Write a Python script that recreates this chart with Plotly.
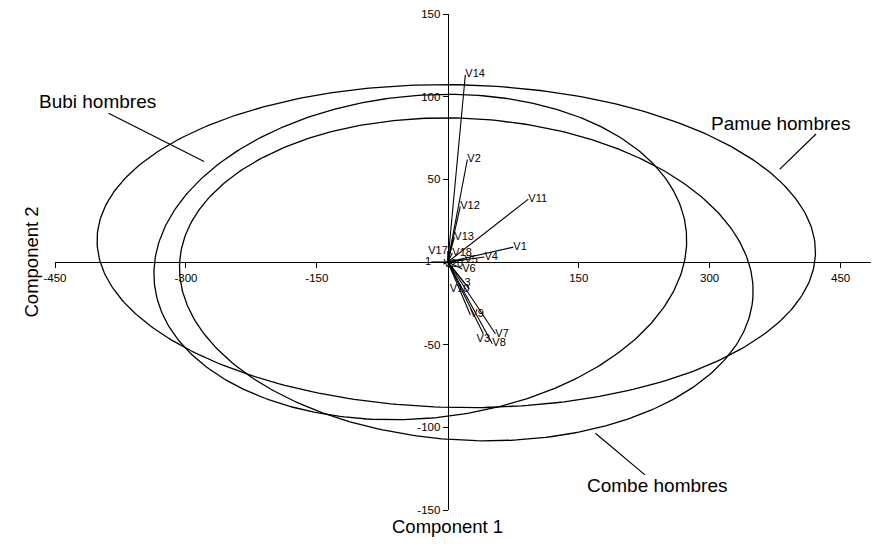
import numpy as np
import plotly.graph_objects as go

# ellipses (group regions): centre, first and second semi-diameter vectors
ellipse_names = ["Pamue hombres", "Bubi hombres", "Combe hombres"]
ellipse_cx = [9.7, -31.5, 21.2]
ellipse_cy = [9.6, 3.0, -10.5]
ellipse_ax = [411.5, 304.6, 328.4]
ellipse_ay = [-4.3, 16.05, -10.4]
ellipse_bx = [3.7, -18.5, 11.1]
ellipse_by = [97.6, 97.1, 97.1]

# variable loadings
var_labels = ["V14", "V2", "V12", "V13", "V11", "V1", "V4", "V17", "1", "V18",
              "V20", "V5", "V6", "3", "V10", "V9", "V7", "V8", "V3"]
var_x = [20.1, 22.4, 14.3, 7.5, 92.3, 75.1, 42.0, 0.0, -19.0, 5.2,
         -5.0, 19.0, 16.6, 19.0, 24.6, 25.8, 54.5, 51.0, 40.7]
var_y = [113.3, 62.0, 33.7, 15.1, 38.0, 9.0, 3.0, 6.6, 0.0, 5.4,
         -1.2, 1.2, -4.2, -12.7, -16.3, -31.9, -43.4, -49.4, -43.4]
var_textpos = ["middle right"] * 7 + ["middle left", "middle left"] + ["middle right"] * 5 + \
              ["middle left", "middle right", "middle right", "middle right", "bottom center"]

# group labels: text position and leader line (tail -> head)
group_text_x = [-401.3, 381.0, 240.0]
group_text_y = [97.0, 84.0, -135.0]
leader_tail = [(-390.4, 90.4), (423.6, 78.3), (227.6, -129.5)]
leader_head = [(-279.2, 60.8), (380.1, 56.0), (169.1, -103.6)]
group_label_order = ["Bubi hombres", "Pamue hombres", "Combe hombres"]

x_ticks = [-450, -300, -150, 150, 300, 450]
y_ticks = [-150, -100, -50, 50, 100, 150]

FONT = "Liberation Sans, Arial, Helvetica, sans-serif"

fig = go.Figure()

t = np.linspace(0, 2 * np.pi, 361)
for i, name in enumerate(ellipse_names):
    ex = ellipse_cx[i] + ellipse_ax[i] * np.cos(t) + ellipse_bx[i] * np.sin(t)
    ey = ellipse_cy[i] + ellipse_ay[i] * np.cos(t) + ellipse_by[i] * np.sin(t)
    fig.add_trace(go.Scatter(x=ex, y=ey, mode="lines", name=name,
                             line=dict(color="black", width=1.3),
                             hoverinfo="skip"))

# loading vectors from origin
lx, ly = [], []
for vx, vy in zip(var_x, var_y):
    lx += [0, vx, None]
    ly += [0, vy, None]
fig.add_trace(go.Scatter(x=lx, y=ly, mode="lines",
                         line=dict(color="black", width=1.1), hoverinfo="skip"))

fig.add_trace(go.Scatter(x=var_x, y=var_y, mode="text", text=var_labels,
                         textposition=var_textpos,
                         textfont=dict(family=FONT, size=11, color="black"),
                         cliponaxis=False))

annotations = []
for name, tx, ty in zip(group_label_order, group_text_x, group_text_y):
    annotations.append(dict(x=tx, y=ty, xref="x", yref="y", text=name,
                            showarrow=False,
                            font=dict(family=FONT, size=19, color="black")))
for (tx, ty), (hx, hy) in zip(leader_tail, leader_head):
    annotations.append(dict(x=hx, y=hy, xref="x", yref="y", ax=tx, ay=ty,
                            axref="x", ayref="y", text="", showarrow=True,
                            arrowhead=0, arrowwidth=1.2, arrowcolor="black",
                            standoff=0, startstandoff=0))

annotations.append(dict(x=0, y=-0.034, xref="x", yref="paper", text="Component 1",
                        showarrow=False, yanchor="middle",
                        font=dict(family=FONT, size=18.5, color="black")))
annotations.append(dict(x=-0.0449, y=0.5, xref="paper", yref="paper", text="Component 2",
                        showarrow=False, textangle=-90,
                        font=dict(family=FONT, size=18.5, color="black")))

# the page body adds an 8px offset, so the figure is a little smaller
fig.update_layout(
    width=871, height=536,
    margin=dict(l=47, r=0, t=4, b=34),
    plot_bgcolor="white", paper_bgcolor="white",
    showlegend=False,
    annotations=annotations,
    xaxis=dict(range=[-450, 494], anchor="free", position=0.5,
               showgrid=False, zeroline=False, showline=True,
               linecolor="black", linewidth=1.2,
               ticks="outside", ticklen=5, tickcolor="black", tickwidth=1.2,
               tickvals=x_ticks, ticktext=[str(v) for v in x_ticks],
               ticklabeloverflow="allow",
               tickfont=dict(family=FONT, size=11.5, color="black")),
    yaxis=dict(range=[-150, 150], anchor="free", position=450 / 944,
               showgrid=False, zeroline=False, showline=True,
               linecolor="black", linewidth=1.2,
               ticks="outside", ticklen=5, tickcolor="black", tickwidth=1.2,
               tickvals=y_ticks, ticktext=[str(v) for v in y_ticks],
               ticklabeloverflow="allow",
               tickfont=dict(family=FONT, size=11.5, color="black")),
)

fig.write_html("out.html")
